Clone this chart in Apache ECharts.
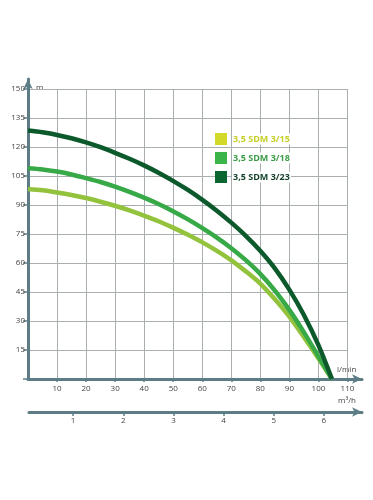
<!DOCTYPE html>
<html>
<head>
<meta charset="utf-8">
<script src="https://cdn.jsdelivr.net/npm/echarts@6/dist/echarts.min.js"></script>
<style>html,body{margin:0;padding:0;background:#fff}#c{width:373px;height:500px}</style>
</head>
<body>
<div id="c"></div>
<script>
// Flow in l/min and head in m
const flow = [0, 5, 10, 15, 20, 25, 30, 35, 40, 45, 50, 55, 60, 65, 70, 75, 80, 85, 90, 95, 100, 104.8];
const sdm315 = [98.3, 97.6, 96.5, 95.2, 93.6, 91.7, 89.6, 87.2, 84.5, 81.6, 78.3, 74.7, 70.8, 66.4, 61.5, 55.8, 49.5, 41.5, 32.5, 22, 11, 0];
const sdm318 = [109, 108.4, 107.3, 105.8, 103.9, 101.9, 99.5, 96.8, 93.8, 90.5, 86.8, 82.7, 78.2, 73.3, 67.8, 61.6, 54.5, 46, 36, 24.5, 12, 0];
const sdm323 = [128.5, 127.6, 126.2, 124.5, 122.4, 119.9, 117, 113.9, 110.5, 106.7, 102.5, 97.9, 92.8, 87.2, 81, 74.2, 66.5, 57.5, 46.5, 33.5, 18, 0];
const seriesNames = ['3,5 SDM 3/15', '3,5 SDM 3/18', '3,5 SDM 3/23'];
const lminTicks = [10, 20, 30, 40, 50, 60, 70, 80, 90, 100, 110];
const m3hTicks = [1, 2, 3, 4, 5, 6];

const axisCol = '#5d7d86';
const lineCols = ['#93c23c', '#37a947', '#0c5a2c'];
const legendCols = ['#d3d928', '#3cb44a', '#0b6632'];
const legendTextCols = ['#c6cf28', '#3a9c47', '#123f29'];
const font = 'Open Sans';

const chart = echarts.init(document.getElementById('c'));
const pair = arr => flow.map((x, i) => [x, arr[i]]);
chart.setOption({
  animation: false,
  textStyle: { fontFamily: font },
  grid: [
    { left: 28, top: 89, width: 319, height: 290 },
    { left: 28, top: 79, width: 334, height: 300 },
    { left: 29, top: 411, width: 333, height: 1 }
  ],
  legend: {
    orient: 'vertical', left: 210, top: 128, itemWidth: 12, itemHeight: 12, itemGap: 7,
    icon: 'rect',
    data: seriesNames.map((n, i) => ({ name: n, itemStyle: { color: legendCols[i] }, textStyle: { color: legendTextCols[i] } })),
    textStyle: { fontSize: 9, fontWeight: 'bold', fontFamily: font, backgroundColor: '#fff', padding: [1, 1] }
  },
  xAxis: [
    { gridIndex: 0, type: 'value', min: 0, max: 110, interval: 10,
      axisLine: { show: false }, axisTick: { show: false }, axisLabel: { show: false },
      splitLine: { show: true, lineStyle: { color: '#a9aeb0', width: 1 } } },
    { gridIndex: 1, type: 'value', min: 0, max: 115,
      axisLine: { show: true, onZero: false, symbol: ['none', 'arrow'], symbolSize: [7, 10], lineStyle: { color: axisCol, width: 3 } },
      axisTick: { show: true, customValues: lminTicks, length: 3, lineStyle: { color: axisCol, width: 1.5 } },
      axisLabel: { show: true, customValues: lminTicks, fontSize: 8, color: '#444', margin: 6 },
      splitLine: { show: false } },
    { gridIndex: 2, type: 'value', min: 0.12, max: 6.76,
      axisLine: { show: true, onZero: false, symbol: ['none', 'arrow'], symbolSize: [7, 10], lineStyle: { color: axisCol, width: 3 } },
      axisTick: { show: true, customValues: m3hTicks, length: 4, lineStyle: { color: axisCol, width: 1.5 } },
      axisLabel: { show: true, customValues: m3hTicks, fontSize: 8, color: '#444', margin: 5 },
      splitLine: { show: false } }
  ],
  yAxis: [
    { gridIndex: 0, type: 'value', min: 0, max: 150, interval: 15,
      axisLine: { show: false },
      axisTick: { show: true, length: 5, lineStyle: { color: axisCol, width: 1.5 } },
      axisLabel: { show: true, fontSize: 8, color: '#444', margin: 3, formatter: v => (v === 0 ? '' : v) },
      splitLine: { show: true, lineStyle: { color: '#a9aeb0', width: 1 } } },
    { gridIndex: 1, type: 'value', min: 0, max: 155.2,
      axisLine: { show: true, onZero: false, symbol: ['none', 'arrow'], symbolSize: [7, 10], lineStyle: { color: axisCol, width: 3 } },
      axisTick: { show: false }, axisLabel: { show: false }, splitLine: { show: false } },
    { gridIndex: 2, type: 'value', show: false }
  ],
  graphic: [
    { type: 'text', left: 34, top: 84, style: { text: 'm', fontSize: 8, fill: '#444', fontFamily: font, backgroundColor: '#fff', padding: [0, 2] } },
    { type: 'text', left: 337, top: 366, style: { text: 'l/min', fontSize: 8, fill: '#444', fontFamily: font } },
    { type: 'text', left: 338, top: 397, style: { text: 'm³/h', fontSize: 8, fill: '#444', fontFamily: font } }
  ],
  series: [
    { name: seriesNames[0], type: 'line', xAxisIndex: 0, yAxisIndex: 0, data: pair(sdm315), smooth: 0.3, showSymbol: false, lineStyle: { color: lineCols[0], width: 4.5 }, itemStyle: { color: lineCols[0] }, z: 3 },
    { name: seriesNames[1], type: 'line', xAxisIndex: 0, yAxisIndex: 0, data: pair(sdm318), smooth: 0.3, showSymbol: false, lineStyle: { color: lineCols[1], width: 4.5 }, itemStyle: { color: lineCols[1] }, z: 4 },
    { name: seriesNames[2], type: 'line', xAxisIndex: 0, yAxisIndex: 0, data: pair(sdm323), smooth: 0.3, showSymbol: false, lineStyle: { color: lineCols[2], width: 4.5 }, itemStyle: { color: lineCols[2] }, z: 5 }
  ]
});
</script>
</body>
</html>
